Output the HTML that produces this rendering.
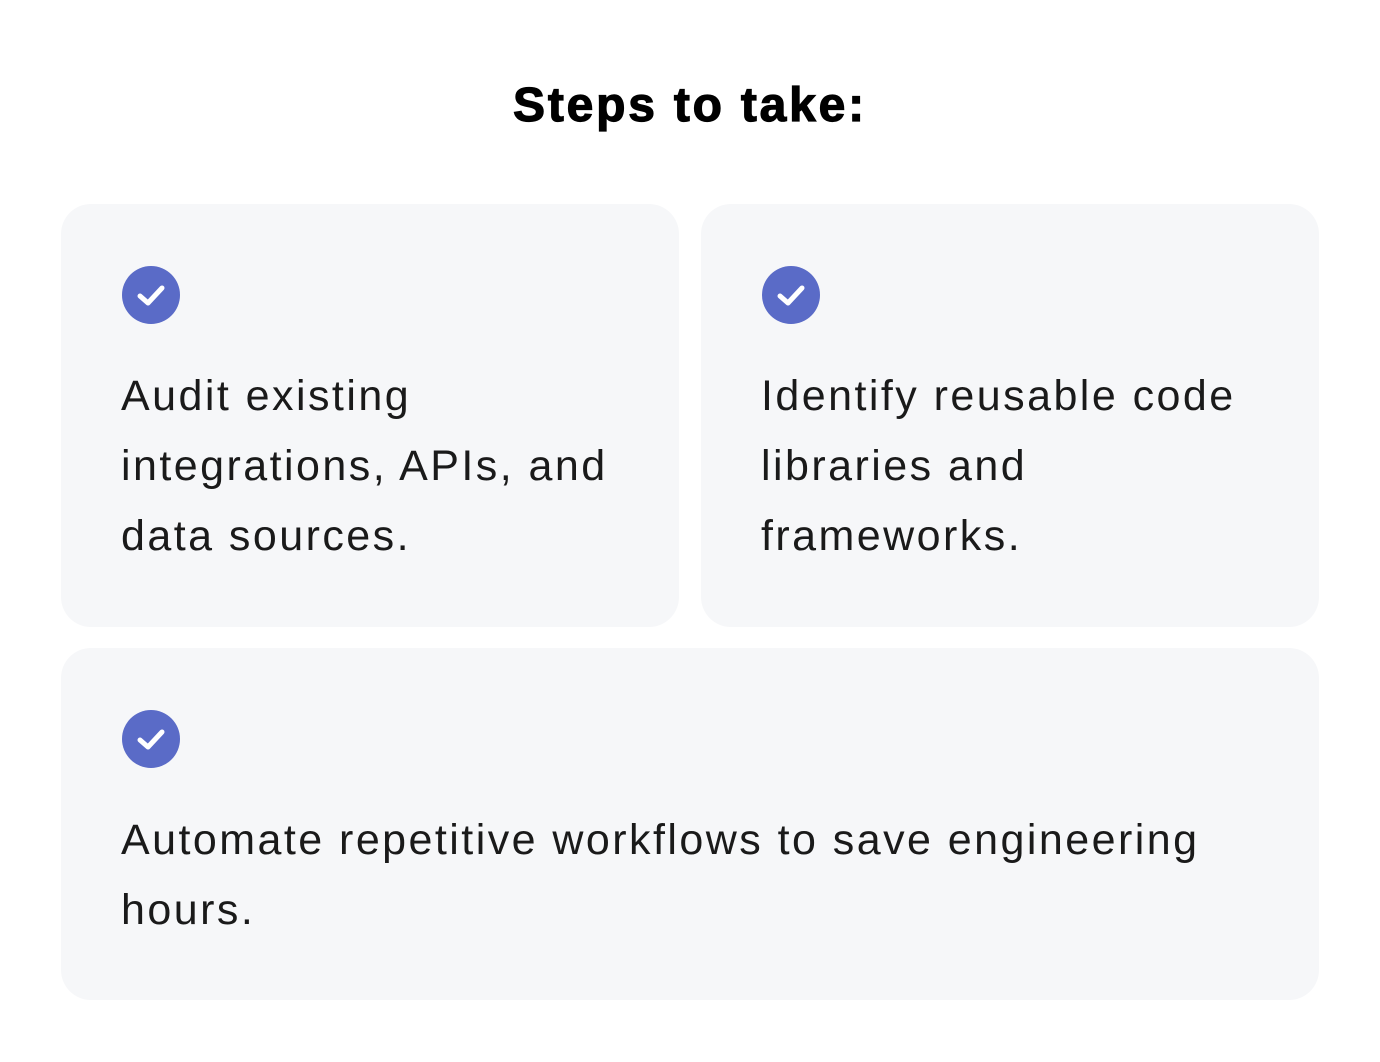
<!DOCTYPE html>
<html><head><style>
body{margin:0;width:1380px;height:1062px;background:#fff;font-family:"Liberation Sans",sans-serif;position:relative;overflow:hidden}
h1{position:absolute;top:78px;left:0;width:1380px;text-align:center;margin:0;font-size:48px;font-weight:900;color:#000;letter-spacing:2.8px;-webkit-text-stroke:1.2px #000}
.card{position:absolute;background:#f6f7f9;border-radius:30px}
.ic{position:absolute;left:61px;top:62px;width:58px;height:58px;border-radius:50%;background:#5a6bc7}
.ic svg{position:absolute;left:0;top:0}
.t{position:absolute;left:60px;top:157px;font-size:43px;line-height:70px;color:#1a1a1a;letter-spacing:2.45px;white-space:nowrap}
</style></head><body>
<h1>Steps to take:</h1>
<div class="card" style="left:61px;top:204px;width:618px;height:423px">
<div class="ic"><svg width="58" height="58"><path d="M18 30 L26 37 L40 22" stroke="#fff" stroke-width="5" fill="none" stroke-linecap="round" stroke-linejoin="round"/></svg></div>
<div class="t">Audit existing<br>integrations, APIs, and<br>data sources.</div></div>
<div class="card" style="left:701px;top:204px;width:618px;height:423px">
<div class="ic"><svg width="58" height="58"><path d="M18 30 L26 37 L40 22" stroke="#fff" stroke-width="5" fill="none" stroke-linecap="round" stroke-linejoin="round"/></svg></div>
<div class="t">Identify reusable code<br>libraries and<br>frameworks.</div></div>
<div class="card" style="left:61px;top:648px;width:1258px;height:352px">
<div class="ic"><svg width="58" height="58"><path d="M18 30 L26 37 L40 22" stroke="#fff" stroke-width="5" fill="none" stroke-linecap="round" stroke-linejoin="round"/></svg></div>
<div class="t">Automate repetitive workflows to save engineering<br>hours.</div></div>
</body></html>
